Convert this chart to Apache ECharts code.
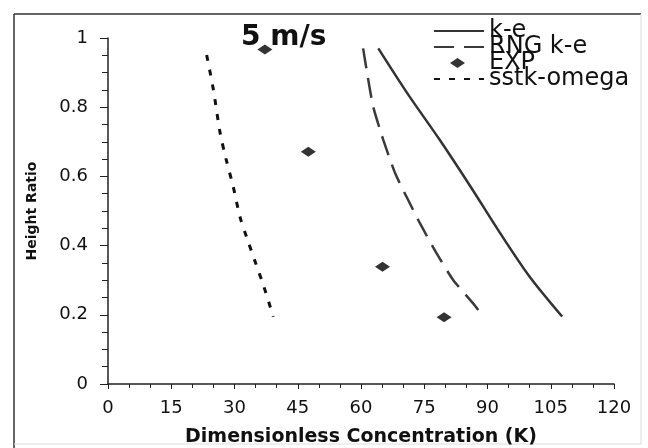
<!DOCTYPE html>
<html>
<head>
<meta charset="utf-8">
<script src="https://cdn.jsdelivr.net/npm/echarts@6/dist/echarts.min.js"></script>
<style>html,body{margin:0;padding:0;background:#fff}#c{width:648px;height:448px}</style>
</head>
<body>
<div id="c"></div>
<script>
var xTicks = [0, 15, 30, 45, 60, 75, 90, 105, 120];
var yTicks = [0, 0.2, 0.4, 0.6, 0.8, 1];

var keX = [64.1, 71, 78.7, 86, 93, 100, 107.7];
var keY = [0.970, 0.84, 0.705, 0.57, 0.436, 0.31, 0.195];

var rngX = [60.5, 61.6, 62.9, 65.3, 68.1, 70.8, 74.0, 77.9, 81.9, 86.6, 89.0];
var rngY = [0.970, 0.888, 0.801, 0.705, 0.609, 0.541, 0.464, 0.378, 0.300, 0.233, 0.195];

var expX = [37.2, 47.5, 65.1, 79.7];
var expY = [0.967, 0.671, 0.339, 0.193];

var sstX = [23.4, 25.0, 26.6, 28.0, 29.7, 31.3, 33.0, 35.0, 37.0, 39.2];
var sstY = [0.951, 0.85, 0.725, 0.65, 0.57, 0.483, 0.42, 0.35, 0.28, 0.194];

function pairs(xs, ys) { return xs.map(function (x, i) { return [x, ys[i]]; }); }

var FONT = 'DejaVu Sans';
var LEGEND_DIAMOND = 'path://M0,5L0.01,5M16,5L23.5,0L31,5L23.5,10ZM50,5L49.99,5';
var hideSym = { opacity: 0 };
var chart = echarts.init(document.getElementById('c'), null, { renderer: 'canvas' });
chart.setOption({
  backgroundColor: '#fff',
  animation: false,
  title: {
    text: '5 m/s', left: 236, top: 19,
    textStyle: { fontFamily: FONT, fontSize: 28, fontWeight: 'bold', color: '#111' }
  },
  legend: {
    orient: 'vertical', left: 433, top: 19, padding: 0,
    itemWidth: 50, itemHeight: 10, itemGap: -8,
    data: [
      { name: 'k-e', itemStyle: hideSym },
      { name: 'RNG k-e', itemStyle: hideSym },
      { name: 'EXP', icon: LEGEND_DIAMOND },
      { name: 'sstk-omega', itemStyle: hideSym }
    ],
    textStyle: { fontFamily: FONT, fontSize: 24, color: '#111' }
  },
  grid: { left: 108, right: 34, top: 38, bottom: 64, show: false, outerBoundsMode: 'none', containLabel: false },
  xAxis: {
    type: 'value', min: 0, max: 120, interval: 15,
    name: 'Dimensionless Concentration (K)', nameLocation: 'middle', nameGap: 44,
    nameTextStyle: { fontFamily: FONT, fontSize: 19, fontWeight: 'bold', color: '#111' },
    axisLine: { show: true, onZero: false, lineStyle: { color: '#222', width: 1.5 } },
    axisTick: { show: true, length: 5, lineStyle: { color: '#222' } },
    minorTick: { show: true, splitNumber: 3, length: 4, lineStyle: { color: '#222' } },
    splitLine: { show: false },
    axisLabel: { fontFamily: FONT, fontSize: 18, color: '#111', margin: 15,
      customValues: xTicks },
  },
  yAxis: {
    type: 'value', min: 0, max: 1, interval: 0.2,
    name: 'Height Ratio', nameLocation: 'middle', nameGap: 69, nameRotate: 90,
    nameTextStyle: { fontFamily: FONT, fontSize: 14, fontWeight: 'bold', color: '#111' },
    axisLine: { show: true, onZero: false, lineStyle: { color: '#222', width: 1.5 } },
    axisTick: { show: true, length: 8, lineStyle: { color: '#222' } },
    minorTick: { show: true, splitNumber: 4, length: 6, lineStyle: { color: '#222' } },
    splitLine: { show: false },
    axisLabel: { fontFamily: FONT, fontSize: 18, color: '#111', margin: 20,
      customValues: yTicks,
      formatter: function (v) { return String(+(+v).toFixed(1)); } }
  },
  series: [
    { name: 'k-e', type: 'line', smooth: 0.3, symbol: 'none', data: pairs(keX, keY),
      lineStyle: { color: '#333', width: 2.5, type: 'solid' }, itemStyle: { color: '#333' } },
    { name: 'RNG k-e', type: 'line', smooth: 0.2, symbol: 'none', data: pairs(rngX, rngY),
      lineStyle: { color: '#3a3a3a', width: 2.5, type: [20, 10] }, itemStyle: { color: '#3a3a3a' } },
    { name: 'EXP', type: 'scatter', symbol: 'diamond', symbolSize: [15, 10],
      data: pairs(expX, expY), itemStyle: { color: '#000' } },
    { name: 'sstk-omega', type: 'line', smooth: 0.3, symbol: 'none', data: pairs(sstX, sstY),
      lineStyle: { color: '#111', width: 3, type: [6, 9] }, itemStyle: { color: '#111' } }
  ],
  graphic: [
    { type: 'line', shape: { x1: 14, y1: 14, x2: 641, y2: 14 }, style: { stroke: '#333', lineWidth: 1.5 } },
    { type: 'line', shape: { x1: 14, y1: 14, x2: 14, y2: 448 }, style: { stroke: '#333', lineWidth: 1.5 } },
    { type: 'line', shape: { x1: 641, y1: 14, x2: 641, y2: 444 }, style: { stroke: '#ddd', lineWidth: 1 } },
    { type: 'line', shape: { x1: 14, y1: 444, x2: 641, y2: 444 }, style: { stroke: '#ddd', lineWidth: 1 } }
  ]
});
</script>
</body>
</html>
